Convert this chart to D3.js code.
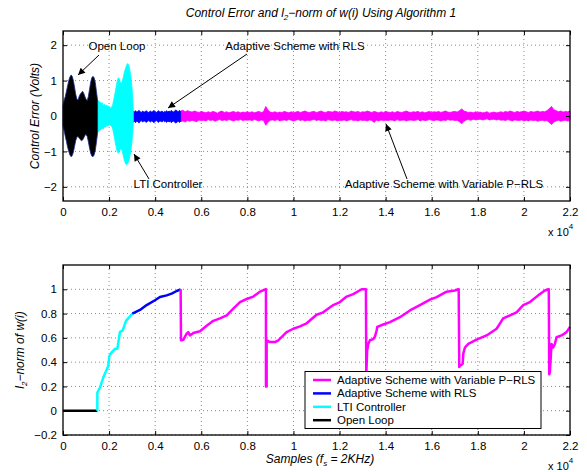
<!DOCTYPE html>
<html>
<head>
<meta charset="utf-8">
<script src="https://cdn.jsdelivr.net/npm/d3@7"></script>
<style>
  body { margin: 0; background: #fff; }
  svg { font-family: "Liberation Sans", Arial, Helvetica, sans-serif; }
</style>
</head>
<body>
<svg id="chart" width="587" height="472"></svg>
<script>
// ---- data (samples, values) ----
const xTicks = [0, 0.2, 0.4, 0.6, 0.8, 1, 1.2, 1.4, 1.6, 1.8, 2, 2.2];
const yTicksTop = [-2, -1, 0, 1, 2];
const yTicksBot = [-0.2, 0, 0.2, 0.4, 0.6, 0.8, 1];

// control error envelopes (upper / lower) per stage, sample grid start + i*step
const olStart = 0, olStep = 50;
const olUpper = [0.30, 0.45, 0.55, 0.70, 0.85, 1.00, 1.10, 1.16, 1.12, 1.00, 0.82, 0.62, 0.48, 0.45, 0.55, 0.62,
  0.66, 0.70, 0.64, 0.55, 0.47, 0.44, 0.55, 0.75, 0.95, 1.08, 1.12, 1.08, 0.95, 0.70, 0.45];
const olLower = [-0.28, -0.42, -0.58, -0.72, -0.88, -1.00, -1.10, -1.15, -1.12, -1.02, -0.86, -0.70, -0.60, -0.58, -0.62, -0.66,
  -0.70, -0.68, -0.62, -0.55, -0.52, -0.58, -0.72, -0.90, -1.05, -1.13, -1.15, -1.10, -0.98, -0.75, -0.48];

const ltiStart = 1500, ltiStep = 50;
const ltiUpper = [0.45, 0.42, 0.40, 0.35, 0.38, 0.30, 0.33, 0.28, 0.31, 0.26, 0.28, 0.22, 0.25, 0.30, 0.45, 0.62,
  0.80, 0.98, 1.08, 1.05, 0.92, 0.95, 1.05, 1.20, 1.32, 1.42, 1.48, 1.44, 1.30, 1.10, 0.75, 0.20];
const ltiLower = [-0.45, -0.44, -0.40, -0.38, -0.34, -0.36, -0.30, -0.32, -0.27, -0.29, -0.24, -0.26, -0.28, -0.35, -0.50, -0.68,
  -0.85, -1.00, -1.05, -1.00, -0.90, -0.95, -1.08, -1.22, -1.32, -1.38, -1.35, -1.28, -1.15, -0.95, -0.70, -0.20];

const rlsStart = 3050, rlsStep = 50;
const rlsUpper = [.14, .12, .15, .11, .13, .16, .12, .10, .14, .12, .11, .15, .13, .10, .12, .14, .11, .13, .16, .12,
  .10, .13, .15, .11, .12, .14, .10, .13, .12, .15, .11, .14, .12, .16, .13, .11, .15, .17, .14, .12, .16, .13];
const rlsLower = [-.18, -.15, -.19, -.14, -.16, -.20, -.15, -.13, -.17, -.15, -.14, -.18, -.16, -.13, -.15, -.17, -.14, -.16, -.19, -.15,
  -.13, -.16, -.18, -.14, -.15, -.17, -.13, -.16, -.15, -.18, -.14, -.17, -.15, -.19, -.16, -.14, -.18, -.20, -.17, -.15, -.18, -.16];

const prlsStart = 5100, prlsStep = 100;
const prlsUpper = [
  .14, .16, .12, .15, .13, .11, .14, .12, .10, .13,
  .11, .09, .12, .10, .13, .11, .08, .12, .14, .10,
  .12, .09, .11, .13, .10, .12, .09, .11, .10, .12,
  .10, .12, .09, .11, .13, .10, .12, .27, .16, .11,
  .10, .12, .09, .11, .10, .13, .11, .09, .12, .10,
  .11, .13, .10, .12, .14, .11, .10, .12, .13, .10,
  .12, .14, .11, .10, .13, .12, .11, .14, .12, .10,
  .13, .11, .12, .10, .14, .12, .11, .13, .10, .12,
  .11, .14, .12, .10, .13, .11, .09, .12, .10, .13,
  .11, .10, .12, .09, .13, .11, .10, .12, .14, .11,
  .10, .12, .11, .13, .10, .12, .09, .11, .13, .10,
  .12, .11, .13, .10, .12, .14, .11, .10, .12, .13,
  .11, .15, .20, .14, .12, .10, .11, .09, .12, .10,
  .11, .09, .10, .12, .08, .10, .11, .09, .10, .12,
  .10, .13, .11, .14, .12, .10, .13, .11, .12, .14,
  .12, .10, .13, .11, .12, .14, .11, .13, .12, .15,
  .21, .27, .18, .15, .12, .14, .11, .13, .12, .14];
const prlsLower = [
  -.16, -.14, -.17, -.13, -.15, -.12, -.14, -.16, -.11, -.13,
  -.12, -.14, -.10, -.13, -.11, -.15, -.12, -.10, -.13, -.11,
  -.13, -.10, -.12, -.14, -.11, -.12, -.10, -.13, -.11, -.12,
  -.11, -.13, -.10, -.12, -.14, -.11, -.13, -.26, -.17, -.12,
  -.11, -.13, -.10, -.14, -.12, -.11, -.13, -.10, -.12, -.14,
  -.12, -.10, -.13, -.11, -.14, -.12, -.13, -.11, -.10, -.13,
  -.11, -.13, -.12, -.14, -.10, -.12, -.13, -.11, -.14, -.12,
  -.13, -.11, -.14, -.12, -.10, -.13, -.12, -.14, -.11, -.13,
  -.12, -.14, -.11, -.13, -.18, -.12, -.14, -.11, -.13, -.12,
  -.13, -.11, -.12, -.14, -.10, -.13, -.12, -.11, -.14, -.12,
  -.11, -.13, -.12, -.10, -.14, -.11, -.13, -.12, -.10, -.12,
  -.13, -.11, -.12, -.14, -.11, -.13, -.10, -.12, -.11, -.13,
  -.12, -.16, -.22, -.15, -.11, -.10, -.12, -.09, -.11, -.10,
  -.09, -.11, -.10, -.08, -.11, -.10, -.09, -.11, -.10, -.12,
  -.11, -.13, -.10, -.12, -.14, -.11, -.12, -.13, -.11, -.14,
  -.12, -.14, -.11, -.13, -.12, -.15, -.13, -.12, -.14, -.13,
  -.18, -.24, -.17, -.14, -.12, -.15, -.13, -.12, -.14, -.13];

// l2-norm of w(i): [sample, value]
const normOL = [[0, 0], [1490, 0]];
const normLTI = [[1490, 0], [1490, 0.15], [1605, 0.19], [1750, 0.275], [1785, 0.29], [1967, 0.37], [2010, 0.45], [2110, 0.48],
  [2255, 0.51], [2358, 0.51], [2473, 0.65], [2588, 0.66], [2733, 0.74], [2878, 0.77], [3008, 0.80]];
const normRLS = [[3008, 0.80], [3340, 0.83], [3630, 0.87], [3990, 0.91], [4208, 0.936], [4497, 0.95], [4714, 0.964],
  [4931, 0.986], [5105, 1.0]];
const normPRLS = [[5105, 1.0], [5120, 0.58], [5220, 0.584], [5366, 0.634], [5437, 0.647], [5510, 0.62], [5654, 0.64],
  [5944, 0.655], [6234, 0.70], [6522, 0.74], [6811, 0.76], [7102, 0.785], [7390, 0.84], [7679, 0.895], [7969, 0.92],
  [8258, 0.94], [8547, 0.98], [8780, 1.0], [8807, 1.0], [8807, 0.2], [8836, 0.2], [8836, 0.58], [8980, 0.565],
  [9197, 0.565], [9342, 0.58], [9560, 0.62], [9704, 0.647], [9993, 0.675], [10282, 0.694], [10572, 0.72],
  [11006, 0.79], [11291, 0.81], [11727, 0.87], [12017, 0.895], [12308, 0.94], [12594, 0.96], [12959, 1.0],
  [13145, 1.0], [13160, 0.30], [13200, 0.50], [13247, 0.55], [13318, 0.58], [13463, 0.59], [13536, 0.61],
  [13608, 0.66], [13637, 0.69], [13897, 0.71], [14187, 0.73], [14620, 0.77], [15054, 0.826], [15488, 0.87],
  [15922, 0.915], [16211, 0.936], [16645, 0.98], [17007, 0.99], [17150, 1.0], [17170, 1.0], [17195, 0.36],
  [17224, 0.37], [17340, 0.385], [17370, 0.47], [17440, 0.52], [17585, 0.55], [17946, 0.585], [18380, 0.62],
  [18815, 0.675], [19100, 0.76], [19393, 0.785], [19683, 0.81], [19970, 0.87], [20260, 0.895], [20620, 0.95],
  [20911, 0.99], [21055, 1.0], [21080, 1.0], [21098, 0.30], [21128, 0.32], [21200, 0.55], [21270, 0.52],
  [21345, 0.55], [21418, 0.605], [21634, 0.62], [21850, 0.647], [22000, 0.69]];

const legendNames = ["Adaptive Scheme with Variable P\u2212RLS", "Adaptive Scheme with RLS", "LTI Controller", "Open Loop"];
const colors = {ol: "#000000", lti: "#00ffff", rls: "#0000ff", prls: "#ff00ff"};

// ---- layout ----
var svg = d3.select("#chart"),
    left = 63, right = 570,
    top1 = 31, bot1 = 201,
    top2 = 265, bot2 = 435;

let x = d3.scaleLinear().domain([0, 22000]).range([left, right]);
let yTop = d3.scaleLinear().domain([-2.4, 2.4]).range([bot1, top1]);
let yBot = d3.scaleLinear().domain([-0.2, 1.2]).range([bot2, top2]);

let fmt = d3.format("~g");

function drawFrame(y, yTicks, t, b) {
    let g = svg.append("g");
    // dotted grid
    g.selectAll(".gx").data(xTicks.slice(1, -1)).enter().append("line")
        .attr("x1", d => x(d * 10000)).attr("x2", d => x(d * 10000))
        .attr("y1", t).attr("y2", b)
        .style("stroke", "#8a8a8a").style("stroke-dasharray", "1,3");
    g.selectAll(".gy").data(yTicks).enter().append("line")
        .attr("x1", left).attr("x2", right)
        .attr("y1", d => y(d)).attr("y2", d => y(d))
        .style("stroke", "#8a8a8a").style("stroke-dasharray", "1,3");
}

function drawAxes(y, yTicks, t, b) {
    let xs = d3.scaleLinear().domain([0, 2.2]).range([left, right]);
    let ax = svg.append("g").attr("transform", "translate(0," + b + ")")
        .call(d3.axisBottom(xs).tickValues(xTicks).tickSize(-4).tickPadding(7).tickFormat(fmt));
    let ax2 = svg.append("g").attr("transform", "translate(0," + t + ")")
        .call(d3.axisTop(xs).tickValues(xTicks).tickSize(-4).tickFormat(""));
    let ay = svg.append("g").attr("transform", "translate(" + left + ",0)")
        .call(d3.axisLeft(y).tickValues(yTicks).tickSize(-4).tickPadding(6).tickFormat(fmt));
    let ay2 = svg.append("g").attr("transform", "translate(" + right + ",0)")
        .call(d3.axisRight(y).tickValues(yTicks).tickSize(-4).tickFormat(""));
    [ax, ax2, ay, ay2].forEach(a => {
        a.selectAll("text").style("font-size", "11.5px").style("fill", "#000");
        a.selectAll("line").style("stroke", "#000");
        a.select(".domain").remove();
    });
    svg.append("rect").attr("x", left).attr("y", t).attr("width", right - left).attr("height", b - t)
        .style("fill", "none").style("stroke", "#000").style("stroke-width", 1.3);

    // x 10^4
    let e = svg.append("text").attr("x", 548).attr("y", b + 35).style("font-size", "11px");
    e.append("tspan").text("x 10");
    e.append("tspan").attr("dy", -7).style("font-size", "8px").text("4");
}

// ---- top panel ----
drawFrame(yTop, yTicksTop, top1, bot1);

function envelope(start, step, up, low, color, edge) {
    let pts = up.map((v, i) => [start + i * step, v, low[i]]);
    let area = d3.area()
        .x(d => x(d[0]))
        .y0(d => yTop(d[2]))
        .y1(d => yTop(d[1]));
    svg.append("path").attr("d", area(pts))
        .style("fill", color).style("stroke", edge).style("stroke-width", 0.8);
}
envelope(prlsStart, prlsStep, prlsUpper, prlsLower, colors.prls, colors.prls);
envelope(rlsStart, rlsStep, rlsUpper, rlsLower, colors.rls, colors.rls);
envelope(ltiStart, ltiStep, ltiUpper, ltiLower, colors.lti, colors.lti);
envelope(olStart, olStep, olUpper, olLower, colors.ol, "#1a2a8a");

drawAxes(yTop, yTicksTop, top1, bot1);

// ---- bottom panel ----
drawFrame(yBot, yTicksBot, top2, bot2);

let line = d3.line().x(d => x(d[0])).y(d => yBot(d[1]));
[[normOL, colors.ol], [normLTI, colors.lti], [normRLS, colors.rls], [normPRLS, colors.prls]].forEach(s => {
    svg.append("path").attr("d", line(s[0]))
        .style("fill", "none").style("stroke", s[1]).style("stroke-width", 2.5)
        .style("stroke-linejoin", "round");
});

drawAxes(yBot, yTicksBot, top2, bot2);

// legend
let lg = svg.append("g");
lg.append("rect").attr("x", 305).attr("y", 371.5).attr("width", 236).attr("height", 57)
    .style("fill", "#fff").style("stroke", "#000").style("stroke-width", 1);
let legColors = [colors.prls, colors.rls, colors.lti, colors.ol];
legendNames.forEach((n, i) => {
    let yy = 380 + i * 13.4;
    lg.append("line").attr("x1", 313).attr("x2", 331).attr("y1", yy).attr("y2", yy)
        .style("stroke", legColors[i]).style("stroke-width", 2.5);
    lg.append("text").attr("x", 337).attr("y", yy + 4).style("font-size", "11.5px").text(n);
});

// ---- titles and labels ----
let title = svg.append("text").attr("x", 321).attr("y", 17).attr("text-anchor", "middle")
    .style("font-size", "12px").style("font-style", "italic");
title.append("tspan").text("Control Error and l");
title.append("tspan").attr("dy", 3).style("font-size", "8px").text("2");
title.append("tspan").attr("dy", -3).text("\u2212norm of w(i) Using Algorithm 1");

svg.append("text").attr("transform", "translate(39,116) rotate(-90)").attr("text-anchor", "middle")
    .style("font-size", "12px").style("font-style", "italic").text("Control Error (Volts)");

let yl = svg.append("text").attr("transform", "translate(24,350) rotate(-90)").attr("text-anchor", "middle")
    .style("font-size", "12px").style("font-style", "italic");
yl.append("tspan").text("l");
yl.append("tspan").attr("dy", 3).style("font-size", "8px").text("2");
yl.append("tspan").attr("dy", -3).text("\u2212norm of w(i)");

let xl = svg.append("text").attr("x", 320).attr("y", 463).attr("text-anchor", "middle")
    .style("font-size", "12px").style("font-style", "italic");
xl.append("tspan").text("Samples (f");
xl.append("tspan").attr("dy", 3).style("font-size", "8px").text("s");
xl.append("tspan").attr("dy", -3).text(" = 2KHz)");

// ---- annotations with arrows ----
svg.append("defs").append("marker")
    .attr("id", "arr").attr("viewBox", "0 0 10 10").attr("refX", 10).attr("refY", 5)
    .attr("markerWidth", 9).attr("markerHeight", 7).attr("orient", "auto")
    .append("path").attr("d", "M0,0 L10,5 L0,10 z").style("fill", "#000");

const notes = [
    {text: "Open Loop", tx: 117, ty: 50, from: [99, 55], to: [78, 75]},
    {text: "Adaptive Scheme with RLS", tx: 295, ty: 50, from: [247, 54], to: [168, 108]},
    {text: "LTI Controller", tx: 168, ty: 188, from: [149, 179], to: [134, 154]},
    {text: "Adaptive Scheme with Variable P\u2212RLS", tx: 444, ty: 188, from: [407, 179], to: [386, 124]}
];
notes.forEach(n => {
    svg.append("line").attr("x1", n.from[0]).attr("y1", n.from[1]).attr("x2", n.to[0]).attr("y2", n.to[1])
        .style("stroke", "#000").style("stroke-width", 1).attr("marker-end", "url(#arr)");
    svg.append("text").attr("x", n.tx).attr("y", n.ty).attr("text-anchor", "middle")
        .style("font-size", "11.5px").text(n.text);
});
</script>
</body>
</html>
